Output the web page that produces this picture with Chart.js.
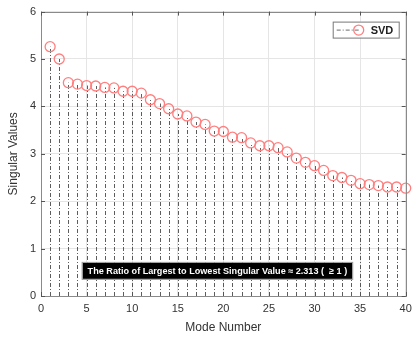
<!DOCTYPE html>
<html>
<head>
<meta charset="utf-8">
<script src="https://cdn.jsdelivr.net/npm/chart.js@4.4.1/dist/chart.umd.min.js"></script>
<style>
  html, body { margin: 0; padding: 0; background: #fff; }
  #wrap { width: 412px; height: 339px; }
</style>
</head>
<body>
<div id="wrap"><canvas id="svdChart"></canvas></div>
<script>
// mode numbers and singular values
const modes = [1,2,3,4,5,6,7,8,9,10,11,12,13,14,15,16,17,18,19,20,
               21,22,23,24,25,26,27,28,29,30,31,32,33,34,35,36,37,38,39,40];
const singularValues = [5.26,5.00,4.50,4.47,4.44,4.43,4.40,4.39,4.32,4.32,
                        4.28,4.14,4.06,3.95,3.84,3.80,3.67,3.62,3.48,3.47,
                        3.35,3.34,3.23,3.17,3.17,3.13,3.04,2.91,2.82,2.75,
                        2.65,2.54,2.50,2.44,2.37,2.35,2.33,2.30,2.30,2.275];
const xTicks = [0,5,10,15,20,25,30,35,40];
const yTicks = [0,1,2,3,4,5,6];
const ratioText = "The Ratio of Largest to Lowest Singular Value \u2248 2.313 (  \u2265 1 )";

const FONT = "'Liberation Sans', Arial, sans-serif";
const stemDash = [4,2,1,2];

// stems, box, inner tick marks, legend and the note
const stemPlugin = {
    id: 'stems',
    beforeDatasetsDraw(chart){
        const ctx = chart.ctx, xs = chart.scales.x, ys = chart.scales.y;
        const y0 = ys.getPixelForValue(0);
        ctx.save();
        ctx.strokeStyle = '#333';
        ctx.lineWidth = 0.8;
        ctx.setLineDash(stemDash);
        modes.forEach((m,i) => {
            const px = Math.round(xs.getPixelForValue(m)) + 0.5;
            ctx.beginPath();
            ctx.moveTo(px, y0);
            ctx.lineTo(px, ys.getPixelForValue(singularValues[i]));
            ctx.stroke();
        });
        ctx.restore();
    },
    afterDatasetsDraw(chart){
        const ctx = chart.ctx, a = chart.chartArea;
        const xs = chart.scales.x, ys = chart.scales.y;
        ctx.save();
        // axes box
        ctx.strokeStyle = '#8a8a8a';
        ctx.lineWidth = 1;
        ctx.strokeRect(Math.round(a.left)+0.5, Math.round(a.top)+0.5,
                       Math.round(a.right-a.left), Math.round(a.bottom-a.top));
        // inner tick marks on all sides
        ctx.strokeStyle = '#555';
        xTicks.forEach(t => {
            const px = Math.round(xs.getPixelForValue(t)) + 0.5;
            ctx.beginPath();
            ctx.moveTo(px, a.bottom); ctx.lineTo(px, a.bottom-4);
            ctx.moveTo(px, a.top); ctx.lineTo(px, a.top+4);
            ctx.stroke();
        });
        yTicks.forEach(t => {
            const py = Math.round(ys.getPixelForValue(t)) + 0.5;
            ctx.beginPath();
            ctx.moveTo(a.left, py); ctx.lineTo(a.left+4, py);
            ctx.moveTo(a.right, py); ctx.lineTo(a.right-4, py);
            ctx.stroke();
        });

        // legend
        const lx = a.right - 73, ly = a.top + 10, lw = 66, lh = 16;
        ctx.fillStyle = '#fff';
        ctx.fillRect(lx, ly, lw, lh);
        ctx.strokeStyle = '#777';
        ctx.strokeRect(lx+0.5, ly+0.5, lw, lh);
        ctx.strokeStyle = '#444';
        ctx.lineWidth = 0.8;
        ctx.setLineDash(stemDash);
        ctx.beginPath();
        ctx.moveTo(lx+4, ly+lh/2+0.5); ctx.lineTo(lx+26, ly+lh/2+0.5);
        ctx.stroke();
        ctx.setLineDash([]);
        ctx.strokeStyle = '#ff7f7f';
        ctx.lineWidth = 1.3;
        ctx.beginPath();
        ctx.arc(lx+26, ly+lh/2+0.5, 5, 0, Math.PI*2);
        ctx.stroke();
        ctx.fillStyle = '#222';
        ctx.font = 'bold 11px ' + FONT;
        ctx.textBaseline = 'middle';
        ctx.textAlign = 'left';
        ctx.fillText('SVD', lx+38, ly+lh/2+1);

        // ratio note
        ctx.font = 'bold 9.1px ' + FONT;
        const tw = ctx.measureText(ratioText).width;
        const cx = xs.getPixelForValue(19.35), cy = ys.getPixelForValue(0.53);
        const bw = tw + 10, bh = 16;
        ctx.fillStyle = '#000';
        ctx.fillRect(cx-bw/2, cy-bh/2, bw, bh);
        ctx.strokeStyle = '#999';
        ctx.lineWidth = 1;
        ctx.strokeRect(cx-bw/2-0.5, cy-bh/2-0.5, bw+1, bh+1);
        ctx.fillStyle = '#fff';
        ctx.textAlign = 'center';
        ctx.fillText(ratioText, cx, cy+0.5);
        ctx.restore();
    }
};

const ctx = document.getElementById('svdChart').getContext('2d');
new Chart(ctx, {
    type: 'scatter',
    data: {
        datasets: [{
            label: 'SVD',
            data: modes.map((m,i) => ({x: m, y: singularValues[i]})),
            showLine: false,
            pointStyle: 'circle',
            pointRadius: 5,
            pointBorderWidth: 1.3,
            pointBorderColor: '#ff7f7f',
            pointBackgroundColor: 'rgba(0,0,0,0)',
            clip: false
        }]
    },
    options: {
        responsive: true,
        maintainAspectRatio: false,
        animation: false,
        layout: { padding: { top: 6, right: 0, left: 0, bottom: 0 } },
        plugins: { legend: { display: false }, tooltip: { enabled: false } },
        scales: {
            x: {
                type: 'linear', min: 0, max: 40,
                afterBuildTicks: s => { s.ticks = xTicks.map(v => ({value: v})); },
                afterFit: s => { s.height = 43; s.paddingRight = 6; },
                grid: { color: '#e5e5e5', drawTicks: false },
                border: { display: false },
                ticks: { color: '#333', padding: 6, font: { family: FONT, size: 11 }, maxRotation: 0 },
                title: { display: true, text: 'Mode Number', color: '#333',
                         font: { family: FONT, size: 12 }, padding: { top: 2 } }
            },
            y: {
                type: 'linear', min: 0, max: 6,
                afterBuildTicks: s => { s.ticks = yTicks.map(v => ({value: v})); },
                afterFit: s => { s.width = 41; },
                grid: { color: '#e5e5e5', drawTicks: false },
                border: { display: false },
                ticks: { color: '#333', padding: 5, font: { family: FONT, size: 11 } },
                title: { display: true, text: 'Singular Values', color: '#333',
                         font: { family: FONT, size: 12 }, padding: { bottom: 0, top: 6 } }
            }
        }
    },
    plugins: [stemPlugin]
});
</script>
</body>
</html>
